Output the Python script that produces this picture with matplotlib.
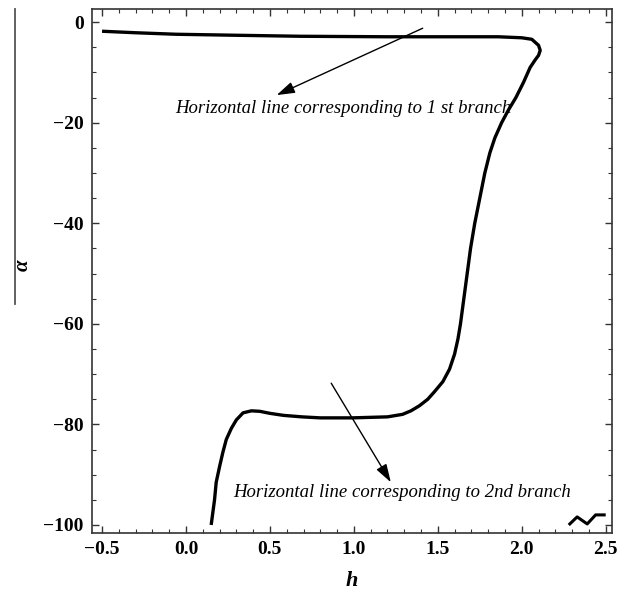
import matplotlib
matplotlib.use("Agg")
import matplotlib.pyplot as plt
from matplotlib.lines import Line2D

# ---- data ----
curve_h = [-0.50, -0.30, -0.06, 0.30, 0.68, 1.20, 1.86, 2.00, 2.06, 2.10, 2.11, 2.10, 2.08,
           2.05, 2.01, 1.965, 1.92, 1.88, 1.84, 1.81, 1.78, 1.75, 1.72, 1.695, 1.675, 1.655,
           1.635, 1.62, 1.60, 1.57, 1.53, 1.48, 1.44, 1.39, 1.34, 1.29, 1.20, 0.99, 0.80,
           0.69, 0.58, 0.50, 0.44, 0.39, 0.34, 0.30, 0.27, 0.24, 0.22, 0.20, 0.18, 0.17,
           0.16, 0.15]
curve_a = [-1.8, -2.1, -2.4, -2.6, -2.8, -2.9, -2.9, -3.1, -3.4, -4.6, -5.6, -6.6, -7.5,
           -9.0, -12.0, -15.0, -17.5, -20.0, -23.0, -26.0, -30.0, -35.0, -40.0, -45.0, -50.0, -55.0,
           -60.0, -63.0, -66.0, -69.0, -71.5, -73.5, -75.0, -76.3, -77.3, -78.0, -78.5, -78.7, -78.7,
           -78.5, -78.2, -77.8, -77.4, -77.3, -77.7, -79.1, -80.8, -83.0, -85.5, -88.4, -91.5, -95.0,
           -97.5, -100.0]

wiggle_h = [2.28, 2.33, 2.39, 2.44, 2.50]
wiggle_a = [-100.0, -98.4, -99.8, -98.0, -98.0]

x_ticks = [-0.5, 0.0, 0.5, 1.0, 1.5, 2.0, 2.5]
x_ticklabels = ["\u22120.5", "0.0", "0.5", "1.0", "1.5", "2.0", "2.5"]
y_ticks = [0, -20, -40, -60, -80, -100]
y_ticklabels = ["0", "\u221220", "\u221240", "\u221260", "\u221280", "\u2212100"]

note1 = "Horizontal line corresponding to 1 st branch"
note2 = "Horizontal line corresponding to 2nd branch"

# ---- figure ----
fig = plt.figure(figsize=(6.30, 5.96), dpi=100)
ax = fig.add_axes([0.146, 0.1057, 0.825, 0.879])

ax.plot(curve_h, curve_a, color="black", lw=2.4, solid_capstyle="butt", solid_joinstyle="round")
ax.plot(wiggle_h, wiggle_a, color="black", lw=2.2, solid_capstyle="butt")

ax.set_xlim(-0.56, 2.536)
ax.set_ylim(-101.6, 2.6)

ax.set_xticks(x_ticks)
ax.set_xticklabels(x_ticklabels)
ax.set_yticks(y_ticks)
ax.set_yticklabels(y_ticklabels)
ax.set_xticks([v / 10 for v in range(-5, 26)], minor=True)
ax.set_yticks(list(range(-100, 1, 5)), minor=True)

ax.tick_params(which="both", direction="in", top=True, right=True, color="#333333")
ax.tick_params(which="major", length=5, width=1.0, pad=6)
ax.tick_params(which="minor", length=3, width=0.8)
for lab in ax.get_xticklabels() + ax.get_yticklabels():
    lab.set_fontfamily("Liberation Serif")
    lab.set_fontweight("bold")
    lab.set_fontsize(14)
for s in ax.spines.values():
    s.set_linewidth(1.2)
    s.set_color("#333333")

ax.set_xlabel("h", fontfamily="Liberation Serif", fontweight="bold", fontstyle="italic",
              fontsize=16, labelpad=9)

# y label: alpha with a long overbar
fig.text(0.036, 0.555, "\u03b1", rotation=90, fontfamily="Liberation Serif",
         fontweight="bold", fontstyle="italic", fontsize=15, ha="center", va="center")
fig.add_artist(Line2D([0.024, 0.024], [0.985, 0.49], transform=fig.transFigure,
                      color="#555555", lw=1.3))

# annotations
ax.annotate("", xy=(0.54, -14.5), xytext=(1.41, -1.2),
            arrowprops=dict(arrowstyle="-|>,head_length=1.1,head_width=0.35",
                            color="black", lw=1.0, shrinkA=0, shrinkB=0))
ax.text(0.94, -17.1, note1, fontfamily="Liberation Serif", fontstyle="italic",
        fontsize=13.5, ha="center", va="center")

ax.annotate("", xy=(1.22, -91.5), xytext=(0.865, -71.8),
            arrowprops=dict(arrowstyle="-|>,head_length=1.1,head_width=0.35",
                            color="black", lw=1.0, shrinkA=0, shrinkB=0))
ax.text(0.28, -93.6, note2, fontfamily="Liberation Serif", fontstyle="italic",
        fontsize=13.5, ha="left", va="center")

fig.savefig("out.png", dpi=100)
